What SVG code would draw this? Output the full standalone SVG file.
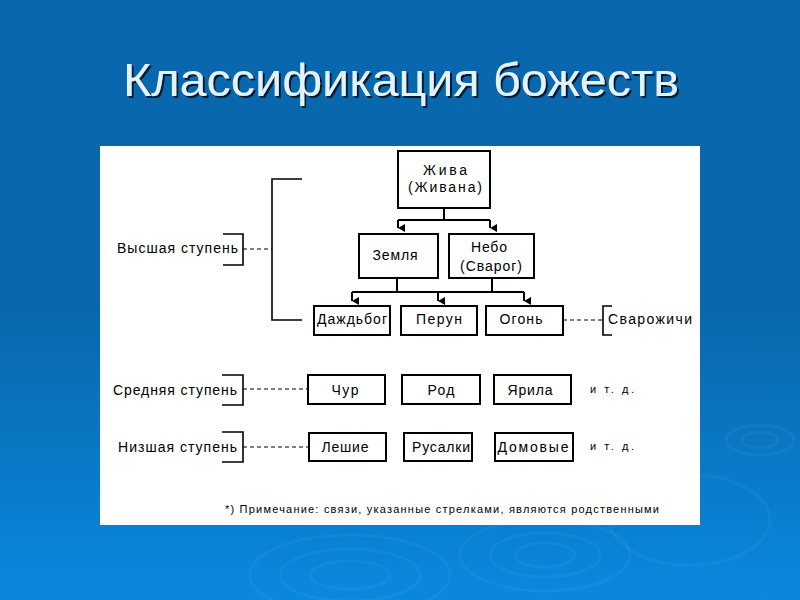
<svg xmlns="http://www.w3.org/2000/svg" width="800" height="600" viewBox="0 0 800 600">
<defs>
<linearGradient id="bg" x1="0" y1="0" x2="0" y2="1">
<stop offset="0" stop-color="#0867ae"/>
<stop offset="0.5" stop-color="#0867ab"/>
<stop offset="1" stop-color="#0a88de"/>
</linearGradient>
<filter id="sh" x="-5%" y="-20%" width="110%" height="140%">
<feDropShadow dx="2" dy="2" stdDeviation="0.6" flood-color="#06142a" flood-opacity="0.95"/>
</filter>
<marker id="arr" viewBox="0 0 8 7" refX="4" refY="7" markerWidth="8" markerHeight="7" markerUnits="userSpaceOnUse" orient="auto-start-reverse">
<path d="M0,0 L8,0 L4,7 Z" fill="#000"/>
</marker>
<style>
.bx{fill:#fff;stroke:#000;stroke-width:2}
.ln{fill:none;stroke:#000;stroke-width:2}
.br{fill:none;stroke:#000;stroke-width:1.6}
.ds{fill:none;stroke:#000;stroke-width:1;stroke-dasharray:4,3}
.t{font-family:"Liberation Sans",Arial,sans-serif;font-size:14px;fill:#000}
.s{font-family:"Liberation Sans",Arial,sans-serif;font-size:11px;fill:#000}
.rp{fill:none;stroke:#ffffff;stroke-opacity:0.045;stroke-width:3}
</style>
</defs>
<rect x="0" y="0" width="800" height="600" fill="url(#bg)"/>
<g id="ripples">
<ellipse class="rp" cx="350" cy="575" rx="40" ry="14"/>
<ellipse class="rp" cx="350" cy="575" rx="70" ry="26"/>
<ellipse class="rp" cx="350" cy="575" rx="100" ry="40"/>
<ellipse class="rp" cx="545" cy="555" rx="30" ry="12"/>
<ellipse class="rp" cx="545" cy="555" rx="55" ry="22"/>
<ellipse class="rp" cx="545" cy="555" rx="85" ry="36"/>
<ellipse class="rp" cx="760" cy="440" rx="18" ry="8"/>
<ellipse class="rp" cx="760" cy="440" rx="34" ry="15"/>
<ellipse class="rp" cx="690" cy="520" rx="80" ry="45"/>
</g>
<g id="title">
<text x="401" y="96" text-anchor="middle" font-family="Liberation Sans, Arial, sans-serif" font-size="46" fill="#e2f2ff" filter="url(#sh)" textLength="556" lengthAdjust="spacingAndGlyphs">Классификация божеств</text>
</g>
<rect id="panel" x="100" y="146" width="600" height="379" fill="#ffffff"/>
<g id="connectors">
<path class="ln" d="M444,208 V220 M398,220 H490"/>
<path class="ln" d="M398,220 V228" marker-end="url(#arr)"/>
<path class="ln" d="M490,220 V228" marker-end="url(#arr)"/>
<path class="ln" d="M397,278 V292 M492,278 V292 M352,292 H524"/>
<path class="ln" d="M352,292 V301" marker-end="url(#arr)"/>
<path class="ln" d="M438,292 V301" marker-end="url(#arr)"/>
<path class="ln" d="M524,292 V301" marker-end="url(#arr)"/>
<path class="ds" d="M243,249 H272"/>
<path class="ds" d="M563,320 H603"/>
<path class="ds" d="M243,389 H308"/>
<path class="ds" d="M243,447 H309"/>
</g>
<g id="bracket-high">
<path class="br" d="M302,179 H272 V320 H302"/>
<path class="br" d="M223,234 H243 V265 H223"/>
<text class="t" x="117" y="253" textLength="121" lengthAdjust="spacing">Высшая ступень</text>
</g>
<g id="zhiva">
<rect class="bx" x="398" y="151" width="92" height="57"/>
<text class="t" x="445" y="175" text-anchor="middle" textLength="44" lengthAdjust="spacing">Жива</text>
<text class="t" x="445" y="192" text-anchor="middle" textLength="74" lengthAdjust="spacing">(Живана)</text>
</g>
<g id="zemlya">
<rect class="bx" x="359" y="234" width="79" height="44"/>
<text class="t" x="395" y="260" text-anchor="middle" textLength="45" lengthAdjust="spacing">Земля</text>
</g>
<g id="nebo">
<rect class="bx" x="449" y="234" width="85" height="44"/>
<text class="t" x="489" y="252" text-anchor="middle" textLength="36" lengthAdjust="spacing">Небо</text>
<text class="t" x="491" y="271" text-anchor="middle" textLength="62" lengthAdjust="spacing">(Сварог)</text>
</g>
<g id="dazhdbog">
<rect class="bx" x="314" y="306" width="76" height="29"/>
<text class="t" x="352" y="324" text-anchor="middle" textLength="70" lengthAdjust="spacing">Даждьбог</text>
</g>
<g id="perun">
<rect class="bx" x="401" y="306" width="76" height="29"/>
<text class="t" x="439" y="324" text-anchor="middle" textLength="46" lengthAdjust="spacing">Перун</text>
</g>
<g id="ogon">
<rect class="bx" x="486" y="306" width="77" height="29"/>
<text class="t" x="521" y="324" text-anchor="middle" textLength="43" lengthAdjust="spacing">Огонь</text>
</g>
<g id="svarozhichi">
<path class="br" d="M612,306 H603 V335 H612"/>
<text class="t" x="608" y="324" textLength="84" lengthAdjust="spacing">Сварожичи</text>
</g>
<g id="bracket-mid">
<path class="br" d="M222,375 H243 V405 H222"/>
<text class="t" x="113" y="395" textLength="124" lengthAdjust="spacing">Средняя ступень</text>
</g>
<g id="chur">
<rect class="bx" x="308" y="375" width="77" height="29"/>
<text class="t" x="345" y="395" text-anchor="middle" textLength="27" lengthAdjust="spacing">Чур</text>
</g>
<g id="rod">
<rect class="bx" x="402" y="375" width="78" height="29"/>
<text class="t" x="441" y="395" text-anchor="middle" textLength="27" lengthAdjust="spacing">Род</text>
</g>
<g id="yarila">
<rect class="bx" x="494" y="375" width="77" height="29"/>
<text class="t" x="530" y="395" text-anchor="middle" textLength="45" lengthAdjust="spacing">Ярила</text>
</g>
<text id="etc-mid" class="s" x="590" y="393" textLength="44" lengthAdjust="spacing">и т. д.</text>
<g id="bracket-low">
<path class="br" d="M222,432 H243 V462 H222"/>
<text class="t" x="118" y="452" textLength="119" lengthAdjust="spacing">Низшая ступень</text>
</g>
<g id="leshie">
<rect class="bx" x="309" y="433" width="77" height="28"/>
<text class="t" x="345" y="452" text-anchor="middle" textLength="47" lengthAdjust="spacing">Лешие</text>
</g>
<g id="rusalki">
<rect class="bx" x="404" y="433" width="68" height="28"/>
<text class="t" x="441" y="452" text-anchor="middle" textLength="58" lengthAdjust="spacing">Русалки</text>
</g>
<g id="domovye">
<rect class="bx" x="495" y="433" width="78" height="28"/>
<text class="t" x="533" y="452" text-anchor="middle" textLength="71" lengthAdjust="spacing">Домовые</text>
</g>
<text id="etc-low" class="s" x="590" y="450" textLength="44" lengthAdjust="spacing">и т. д.</text>
<text id="note" class="s" x="225" y="513" textLength="434" lengthAdjust="spacing">*) Примечание: связи, указанные стрелками, являются родственными</text>
</svg>
